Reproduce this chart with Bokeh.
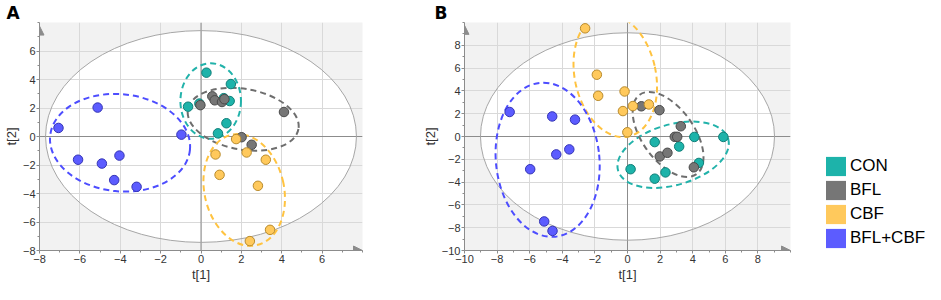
from bokeh.plotting import figure
from bokeh.models import (Span, Arrow, NormalHead, FixedTicker, Legend,
                          LegendItem, Range1d, ColumnDataSource)
from bokeh.layouts import row
from bokeh.embed import file_html
from bokeh.resources import INLINE

groups = ["CON", "BFL", "CBF", "BFL+CBF"]
fill_colors = ["#1db3aa", "#767676", "#ffc95c", "#5c5cff"]
edge_colors = ["#0f7f78", "#4a4a4a", "#b98b2c", "#3535b5"]
dash_colors = ["#22b2aa", "#6e6e6e", "#ffc340", "#4d4dff"]

# ---- Panel A scores t[1], t[2]
a_con_t1 = [0.27, 1.48, -0.64, -0.08, 1.13, 1.42, 1.26, 0.84]
a_con_t2 = [4.48, 3.68, 2.09, 2.31, 2.69, 2.49, 0.93, 0.22]
a_bfl_t1 = [-0.03, 0.56, 0.68, 1.04, 1.16, 4.11, 2.01, 2.51]
a_bfl_t2 = [2.20, 2.82, 2.54, 2.42, 2.62, 1.72, -0.05, -0.58]
a_cbf_t1 = [1.74, 0.72, 2.26, 3.21, 0.92, 2.82, 3.42, 2.42]
a_cbf_t2 = [-0.18, -1.26, -1.12, -1.63, -2.69, -3.46, -6.55, -7.34]
a_mix_t1 = [-7.06, -5.12, -6.09, -4.91, -4.04, -4.30, -3.19, -0.97]
a_mix_t2 = [0.60, 2.03, -1.63, -1.90, -1.34, -3.06, -3.53, 0.13]

# group confidence ellipses A: centre, full width, full height, angle (rad)
a_ell_cx = [0.48, 2.09, 2.14, -4.01]
a_ell_cy = [2.49, 1.21, -3.75, -0.44]
a_ell_w = [3.0, 5.56, 3.94, 6.96]
a_ell_h = [5.3, 4.26, 7.95, 6.82]
a_ell_ang = [0.0, -0.175, 0.225, -0.1]
a_hotelling = [7.7, 7.43]

# ---- Panel B scores
b_con_t1 = [1.67, 4.10, 5.88, 3.17, 4.38, 0.19, 1.67, 2.33]
b_con_t2 = [-0.49, -0.04, -0.04, -0.88, -2.32, -2.87, -3.70, -3.15]
b_bfl_t1 = [0.85, 1.96, 3.27, 2.90, 3.05, 1.98, 2.45, 4.07]
b_bfl_t2 = [2.65, 2.31, 0.90, -0.03, -0.03, -1.75, -1.43, -2.70]
b_cbf_t1 = [-2.60, -1.88, -1.80, -0.18, -0.28, 0.33, 1.31, -0.01]
b_cbf_t2 = [9.49, 5.42, 3.57, 3.95, 2.23, 2.67, 2.81, 0.37]
b_mix_t1 = [-7.23, -4.62, -3.22, -3.57, -4.37, -5.97, -5.11, -4.60]
b_mix_t2 = [2.15, 1.76, 1.48, -1.13, -1.57, -2.87, -7.45, -8.28]

b_ell_cx = [2.80, 2.49, -0.75, -4.90]
b_ell_cy = [-1.6, 0.18, 5.36, -2.04]
b_ell_w = [7.03, 3.2, 4.97, 6.35]
b_ell_h = [5.32, 8.57, 10.98, 13.56]
b_ell_ang = [0.28, 0.62, 0.216, 0.10]
b_hotelling = [9.02, 9.1]

a_ticks = [-8, -6, -4, -2, 0, 2, 4, 6]
a_minor = list(range(-8, 9))
b_ticks = [-10, -8, -6, -4, -2, 0, 2, 4, 6, 8]
b_minor = list(range(-10, 11))

FONT = "Liberation Sans"
AXIS_C = "#8c8c8c"
H = 284


def panel(lim, ticks, minor, pts, ell, hot, letter, title_off, width, left, right):
    p = figure(width=width, height=H, x_range=Range1d(-lim, lim), y_range=Range1d(-lim, lim),
               output_backend="svg", toolbar_location=None,
               min_border_left=left, min_border_right=right, min_border_top=10, min_border_bottom=28)
    p.title.text = letter
    p.title.align = "left"
    p.title.offset = title_off
    p.title.standoff = 0
    p.title.text_font = "DejaVu Sans"
    p.title.text_font_size = "17px"
    p.title.text_font_style = "bold"
    p.title.text_color = "black"
    p.background_fill_color = "#f2f2f2"
    p.border_fill_color = "white"
    p.outline_line_color = None
    grid_ticks = [t for t in ticks if t != -lim]
    p.xgrid.ticker = FixedTicker(ticks=grid_ticks)
    p.ygrid.ticker = FixedTicker(ticks=grid_ticks)
    p.grid.grid_line_color = "#d9d9d9"
    p.grid.grid_line_width = 1
    for ax, lab in ((p.xaxis, "t[1]"), (p.yaxis, "t[2]")):
        ax.ticker = FixedTicker(ticks=ticks, minor_ticks=minor)
        ax.axis_label = lab
        ax.axis_line_color = AXIS_C
        ax.major_tick_line_color = AXIS_C
        ax.minor_tick_line_color = AXIS_C
        ax.major_tick_in = 0
        ax.major_tick_out = 3
        ax.minor_tick_in = 0
        ax.minor_tick_out = 2
        ax.major_label_text_font = FONT
        ax.major_label_text_font_size = "11px"
        ax.major_label_text_color = "#333333"
        ax.major_label_standoff = 1
        ax.axis_label_text_font = FONT
        ax.axis_label_text_font_size = "13px"
        ax.axis_label_text_font_style = "normal"
        ax.axis_label_text_color = "#333333"
        ax.axis_label_standoff = 1

    # Hotelling T2 ellipse
    p.ellipse(x=0, y=0, width=2 * hot[0], height=2 * hot[1], fill_color="white",
              line_color=None, level="image")
    p.ellipse(x=0, y=0, width=2 * hot[0], height=2 * hot[1], fill_color=None,
              line_color="#a6a6a6", line_width=1)
    p.add_layout(Span(location=0, dimension="height", line_color=AXIS_C, line_width=1, level="underlay"))
    p.add_layout(Span(location=0, dimension="width", line_color=AXIS_C, line_width=1, level="underlay"))

    src = ColumnDataSource(dict(x=ell[0], y=ell[1], w=ell[2], h=ell[3], a=ell[4], c=dash_colors))
    p.ellipse(x="x", y="y", width="w", height="h", angle="a", source=src, fill_color=None,
              line_color="c", line_width=2, line_dash="6 4")

    for (xs, ys), fc, lc in zip(pts, fill_colors, edge_colors):
        p.scatter(x=xs, y=ys, size=9.5, fill_color=fc, line_color=lc, line_width=1)

    head = dict(size=9, fill_color=AXIS_C, line_color=AXIS_C)
    p.add_layout(Arrow(end=NormalHead(**head), x_start=-lim, y_start=lim - 1, x_end=-lim,
                       y_end=lim - 0.25, line_color=AXIS_C, line_width=1))
    p.add_layout(Arrow(end=NormalHead(**head), x_start=lim - 1, y_start=-lim, x_end=lim,
                       y_end=-lim, line_color=AXIS_C, line_width=1))
    return p


pA = panel(8, a_ticks, a_minor,
           [(a_con_t1, a_con_t2), (a_bfl_t1, a_bfl_t2), (a_cbf_t1, a_cbf_t2), (a_mix_t1, a_mix_t2)],
           [a_ell_cx, a_ell_cy, a_ell_w, a_ell_h, a_ell_ang], a_hotelling,
           "A", -33, 415, 31, 53)
pB = panel(10, b_ticks, b_minor,
           [(b_con_t1, b_con_t2), (b_bfl_t1, b_bfl_t2), (b_cbf_t1, b_cbf_t2), (b_mix_t1, b_mix_t2)],
           [b_ell_cx, b_ell_cy, b_ell_w, b_ell_h, b_ell_ang], b_hotelling,
           "B", -30, 379, 49, 4)

# legend panel; its frame is aligned with the panels' frames by the row layout
pL = figure(width=131, height=H, output_backend="svg", toolbar_location=None,
            x_range=Range1d(0, 1), y_range=Range1d(0, 1),
            min_border_left=26, min_border_top=0, min_border_right=0, min_border_bottom=0,
            x_axis_location=None, y_axis_location=None)
pL.grid.visible = False
pL.outline_line_color = None
items = []
for g, c in zip(groups, fill_colors):
    # zero-size proxy quad: only provides the legend swatch
    r = pL.quad(left=[0], right=[0], top=[0], bottom=[0], fill_color=c, line_color=None)
    items.append(LegendItem(label=g, renderers=[r]))
leg = Legend(items=items, location=(3, 0), glyph_width=25, glyph_height=24, label_height=24,
             spacing=0, label_standoff=2, padding=0, margin=0, border_line_color=None,
             background_fill_alpha=0, label_text_font=FONT, label_text_font_size="17px",
             label_text_color="black")
pL.add_layout(leg)

layout = row(pA, pB, pL)
open("out.html", "w").write(file_html(layout, INLINE))
